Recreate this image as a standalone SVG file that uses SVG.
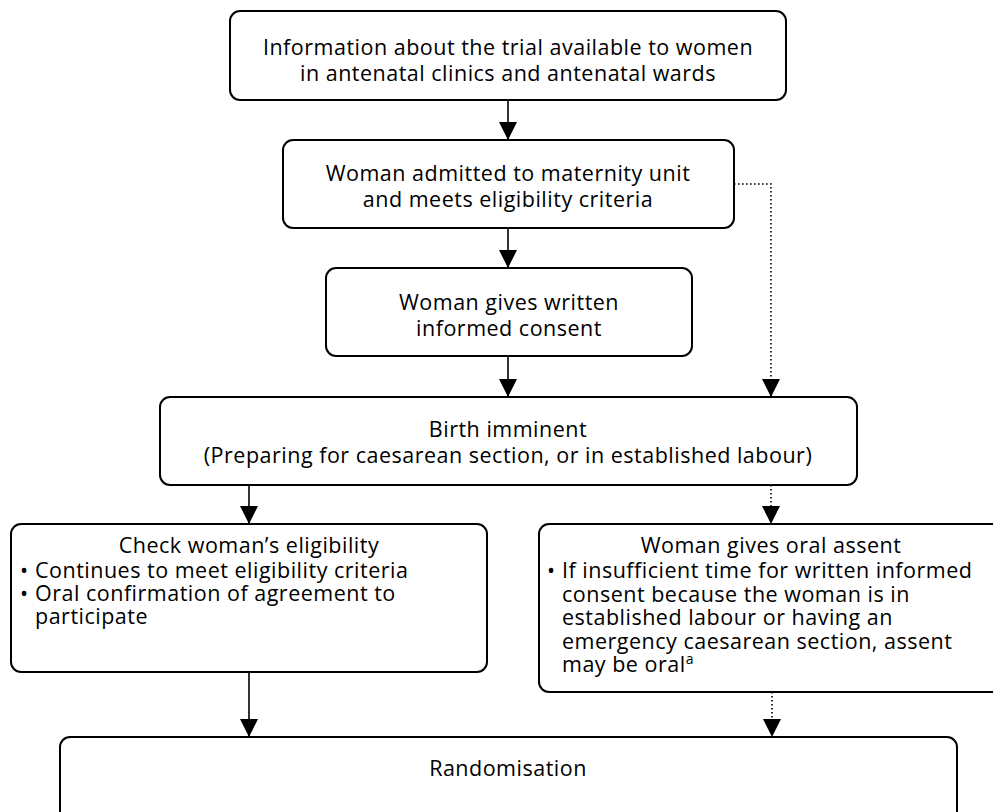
<svg xmlns="http://www.w3.org/2000/svg" width="993" height="812" viewBox="0 0 993 812">
  <style>
    .box { fill: #ffffff; stroke: #000000; stroke-width: 2; }
    .t { font-family: "Open Sans", "Noto Sans", "DejaVu Sans", sans-serif; font-size: 21.5px; letter-spacing: 0.5px; fill: #000000; }
    .c { text-anchor: middle; }
    .solid { fill: none; stroke: #000000; stroke-width: 1.6; }
    .dot { fill: none; stroke: #000000; stroke-width: 1.6; stroke-dasharray: 1.6 2.4; }
  </style>
  <defs>
    <!-- filled triangular head, drawn along +x so orient="auto" points it down the line -->
    <marker id="head" markerUnits="userSpaceOnUse" markerWidth="18" markerHeight="18" viewBox="0 0 18 18" refX="18" refY="9" orient="auto">
      <path d="M0,0 L18,9 L0,18 Z" fill="#000000"/>
    </marker>
  </defs>
  <rect width="993" height="812" fill="#ffffff"/>

  <g id="connectors">
    <line class="solid" x1="508" y1="100" x2="508" y2="140" marker-end="url(#head)"/>
    <line class="solid" x1="508" y1="228" x2="508" y2="268" marker-end="url(#head)"/>
    <line class="solid" x1="508" y1="356" x2="508" y2="397" marker-end="url(#head)"/>
    <path class="dot" d="M734,184 H771 V397" marker-end="url(#head)"/>
    <line class="solid" x1="249" y1="485" x2="249" y2="524" marker-end="url(#head)"/>
    <line class="dot" x1="771" y1="485" x2="771" y2="524" marker-end="url(#head)"/>
    <line class="solid" x1="249" y1="672" x2="249" y2="737" marker-end="url(#head)"/>
    <line class="dot" x1="772" y1="692" x2="772" y2="737" marker-end="url(#head)"/>
  </g>

  <g id="info">
    <rect class="box" x="230" y="11" width="556" height="89" rx="10"/>
    <text class="t c" x="508" y="55">Information about the trial available to women</text>
    <text class="t c" x="508" y="81">in antenatal clinics and antenatal wards</text>
  </g>

  <g id="admitted">
    <rect class="box" x="283" y="140" width="451" height="88" rx="10"/>
    <text class="t c" x="508" y="181">Woman admitted to maternity unit</text>
    <text class="t c" x="508" y="207">and meets eligibility criteria</text>
  </g>

  <g id="consent">
    <rect class="box" x="326" y="268" width="366" height="88" rx="10"/>
    <text class="t c" x="509" y="310">Woman gives written</text>
    <text class="t c" x="509" y="336">informed consent</text>
  </g>

  <g id="birth">
    <rect class="box" x="160" y="397" width="697" height="88" rx="10"/>
    <text class="t c" x="508" y="437">Birth imminent</text>
    <text class="t c" x="508" y="463">(Preparing for caesarean section, or in established labour)</text>
  </g>

  <g id="eligibility">
    <rect class="box" x="11" y="524" width="476" height="148" rx="10"/>
    <text class="t c" x="249" y="553">Check woman’s eligibility</text>
    <text class="t" x="20" y="578">•</text>
    <text class="t" x="35" y="578">Continues to meet eligibility criteria</text>
    <text class="t" x="20" y="601">•</text>
    <text class="t" x="35" y="601">Oral confirmation of agreement to</text>
    <text class="t" x="35" y="624">participate</text>
  </g>

  <g id="assent">
    <rect class="box" x="539" y="524" width="470" height="168" rx="10"/>
    <text class="t c" x="771" y="553">Woman gives oral assent</text>
    <text class="t" x="547" y="578">•</text>
    <text class="t" x="562" y="578">If insufficient time for written informed</text>
    <text class="t" x="562" y="601.5">consent because the woman is in</text>
    <text class="t" x="562" y="625">established labour or having an</text>
    <text class="t" x="562" y="648.5">emergency caesarean section, assent</text>
    <text class="t" x="562" y="672">may be oral<tspan font-size="14" dy="-8">a</tspan></text>
  </g>

  <g id="randomisation">
    <rect class="box" x="60" y="737" width="897" height="100" rx="10"/>
    <text class="t c" x="508" y="776">Randomisation</text>
  </g>
</svg>
